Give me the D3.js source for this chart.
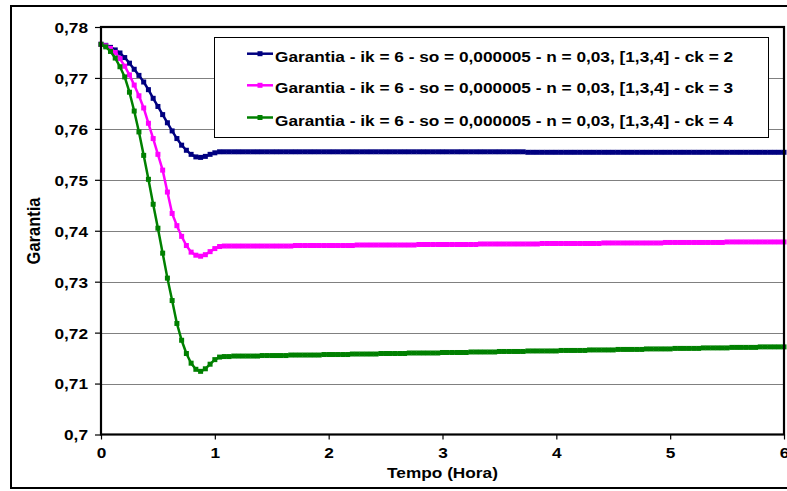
<!DOCTYPE html>
<html><head><meta charset="utf-8">
<script src="https://cdn.jsdelivr.net/npm/d3@7"></script>
<style>
body{margin:0;background:#fff;}
text{font-family:"Liberation Sans",Arial,sans-serif;font-weight:bold;fill:#000;}
</style>
</head><body>
<svg id="chart" width="787" height="491"></svg>
<script>
// ---------- data ----------
const yTickValues = [0.70,0.71,0.72,0.73,0.74,0.75,0.76,0.77,0.78];
const yTickLabels = ["0,7","0,71","0,72","0,73","0,74","0,75","0,76","0,77","0,78"];
const xTickValues = [0,1,2,3,4,5,6];
const xTickLabels = ["0","1","2","3","4","5","6"];
const xTitle = "Tempo (Hora)";
const yTitle = "Garantia";
const seriesNames = [
  "Garantia - ik = 6 - so = 0,000005 - n = 0,03, [1,3,4] - ck = 2",
  "Garantia - ik = 6 - so = 0,000005 - n = 0,03, [1,3,4] - ck = 3",
  "Garantia - ik = 6 - so = 0,000005 - n = 0,03, [1,3,4] - ck = 4"
];
const seriesColors = ["#000080","#FF00FF","#008000"];
const timeStepHours = 1/24; // one sample every 2.5 minutes

const garantiaCk2 = [
0.7766,0.7764,0.7760,0.7755,0.7749,0.7740,0.7729,0.7717,0.7705,0.7692,
0.7677,0.7660,0.7644,0.7628,0.7612,0.7596,0.7581,0.7568,0.7558,0.7550,
0.7545,0.7544,0.7546,0.7550,0.7553,0.7555,0.7555,0.7555,0.7555,0.7555,
0.7555,0.7555,0.7555,0.7555,0.7555,0.7555,0.7555,0.7555,0.7555,0.7555,
0.7555,0.7555,0.7555,0.7555,0.7555,0.7555,0.7555,0.7555,0.7555,0.7555,
0.7555,0.7555,0.7555,0.7555,0.7555,0.7555,0.7555,0.7555,0.7555,0.7555,
0.7555,0.7555,0.7555,0.7555,0.7555,0.7555,0.7555,0.7555,0.7555,0.7555,
0.7555,0.7555,0.7555,0.7555,0.7555,0.7555,0.7555,0.7555,0.7555,0.7555,
0.7555,0.7555,0.7555,0.7555,0.7555,0.7555,0.7555,0.7555,0.7555,0.7555,
0.7554,0.7554,0.7554,0.7554,0.7554,0.7554,0.7554,0.7554,0.7554,0.7554,
0.7554,0.7554,0.7554,0.7554,0.7554,0.7554,0.7554,0.7554,0.7554,0.7554,
0.7554,0.7554,0.7554,0.7554,0.7554,0.7554,0.7554,0.7554,0.7554,0.7554,
0.7554,0.7554,0.7554,0.7554,0.7554,0.7554,0.7554,0.7554,0.7554,0.7554,
0.7554,0.7554,0.7554,0.7554,0.7554,0.7554,0.7554,0.7554,0.7554,0.7554,
0.7554,0.7554,0.7554,0.7554,0.7554
];
const garantiaCk3 = [
0.7766,0.7763,0.7758,0.7750,0.7738,0.7723,0.7706,0.7686,0.7665,0.7641,
0.7611,0.7581,0.7550,0.7519,0.7476,0.7434,0.7410,0.7389,0.7371,0.7358,
0.7352,0.7350,0.7353,0.7359,0.7365,0.7369,0.7370,0.7370,0.7370,0.7370,
0.7370,0.7370,0.7370,0.7370,0.7370,0.7370,0.7370,0.7370,0.7370,0.7370,
0.7370,0.7371,0.7371,0.7371,0.7371,0.7371,0.7371,0.7371,0.7371,0.7371,
0.7371,0.7371,0.7371,0.7371,0.7372,0.7372,0.7372,0.7372,0.7372,0.7372,
0.7372,0.7372,0.7372,0.7372,0.7372,0.7372,0.7372,0.7373,0.7373,0.7373,
0.7373,0.7373,0.7373,0.7373,0.7373,0.7373,0.7373,0.7373,0.7373,0.7373,
0.7374,0.7374,0.7374,0.7374,0.7374,0.7374,0.7374,0.7374,0.7374,0.7374,
0.7374,0.7374,0.7374,0.7375,0.7375,0.7375,0.7375,0.7375,0.7375,0.7375,
0.7375,0.7375,0.7375,0.7375,0.7375,0.7375,0.7376,0.7376,0.7376,0.7376,
0.7376,0.7376,0.7376,0.7376,0.7376,0.7376,0.7376,0.7376,0.7376,0.7377,
0.7377,0.7377,0.7377,0.7377,0.7377,0.7377,0.7377,0.7377,0.7377,0.7377,
0.7377,0.7377,0.7378,0.7378,0.7378,0.7378,0.7378,0.7378,0.7378,0.7378,
0.7378,0.7378,0.7378,0.7378,0.7378
];
const garantiaCk4 = [
0.7766,0.7761,0.7752,0.7739,0.7722,0.7702,0.7672,0.7635,0.7594,0.7548,
0.7501,0.7452,0.7405,0.7356,0.7307,0.7263,0.7218,0.7185,0.7159,0.7140,
0.7128,0.7124,0.7129,0.7138,0.7147,0.7152,0.7153,0.7153,0.7154,0.7154,
0.7154,0.7154,0.7154,0.7154,0.7155,0.7155,0.7155,0.7155,0.7155,0.7155,
0.7156,0.7156,0.7156,0.7156,0.7156,0.7156,0.7156,0.7157,0.7157,0.7157,
0.7157,0.7157,0.7157,0.7158,0.7158,0.7158,0.7158,0.7158,0.7158,0.7159,
0.7159,0.7159,0.7159,0.7159,0.7159,0.7160,0.7160,0.7160,0.7160,0.7160,
0.7160,0.7160,0.7161,0.7161,0.7161,0.7161,0.7161,0.7161,0.7162,0.7162,
0.7162,0.7162,0.7162,0.7162,0.7163,0.7163,0.7163,0.7163,0.7163,0.7163,
0.7164,0.7164,0.7164,0.7164,0.7164,0.7164,0.7164,0.7165,0.7165,0.7165,
0.7165,0.7165,0.7165,0.7166,0.7166,0.7166,0.7166,0.7166,0.7166,0.7167,
0.7167,0.7167,0.7167,0.7167,0.7167,0.7168,0.7168,0.7168,0.7168,0.7168,
0.7168,0.7169,0.7169,0.7169,0.7169,0.7169,0.7169,0.7170,0.7170,0.7170,
0.7170,0.7170,0.7170,0.7171,0.7171,0.7171,0.7171,0.7171,0.7171,0.7172,
0.7172,0.7172,0.7172,0.7172,0.7172
];
const seriesValues = [garantiaCk2, garantiaCk3, garantiaCk4];

// ---------- drawing ----------
const sx = 1.15;          // horizontal stretch of the original bitmap text
const fontSize = 15;
const svg = d3.select("#chart");
svg.append("rect").attr("width",787).attr("height",491).attr("fill","#fff");

const plot = {left:101, right:784, top:27, bottom:434.5};
const x = d3.scaleLinear().domain([0,6]).range([plot.left, plot.right]);
const y = d3.scaleLinear().domain([0.70,0.78]).range([plot.bottom, plot.top]);

// outer chart frame
svg.append("rect").attr("x",11).attr("y",6).attr("width",800).attr("height",482)
  .attr("fill","none").attr("stroke","#000").attr("stroke-width",2);

// gridlines
svg.append("g").selectAll("line").data(yTickValues.slice(1,-1)).join("line")
  .attr("x1",plot.left).attr("x2",plot.right)
  .attr("y1",d=>Math.round(y(d))+0.5).attr("y2",d=>Math.round(y(d))+0.5)
  .attr("stroke","#808080").attr("stroke-width",1);

// axes
const yAxis = svg.append("g").attr("transform",`translate(${plot.left},0)`)
  .call(d3.axisLeft(y).tickValues(yTickValues).tickFormat((d,i)=>yTickLabels[i]).tickSize(6));
yAxis.select(".domain").remove();
yAxis.selectAll(".tick line").attr("stroke","#000").attr("stroke-width",1.2);
yAxis.selectAll(".tick text")
  .attr("x",-13/sx).attr("dy","0.36em")
  .attr("transform",`scale(${sx},1)`)
  .style("font-size",fontSize+"px").style("font-family","'Liberation Sans',Arial,sans-serif")
  .style("font-weight","bold").attr("fill","#000");

const xAxis = svg.append("g").attr("transform",`translate(0,${plot.bottom})`)
  .call(d3.axisBottom(x).tickValues(xTickValues).tickFormat((d,i)=>xTickLabels[i]).tickSize(5));
xAxis.select(".domain").remove();
xAxis.selectAll(".tick line").attr("stroke","#000").attr("stroke-width",1.2);
xAxis.selectAll(".tick text")
  .attr("y",23.5).attr("dy",null)
  .attr("transform",`scale(${sx},1)`)
  .style("font-size",fontSize+"px").style("font-family","'Liberation Sans',Arial,sans-serif")
  .style("font-weight","bold").attr("fill","#000");

// series
const line = d3.line().x((d,i)=>x(i*timeStepHours)).y(d=>y(d));
const ms = 5;
seriesValues.forEach((vals,si)=>{
  const g = svg.append("g");
  g.append("path").datum(vals).attr("d",line)
    .attr("fill","none").attr("stroke",seriesColors[si]).attr("stroke-width",2.5)
    .attr("stroke-linejoin","round");
  g.selectAll("rect").data(vals).join("rect")
    .attr("x",(d,i)=>x(i*timeStepHours)-ms/2).attr("y",d=>y(d)-ms/2)
    .attr("width",ms).attr("height",ms).attr("fill",seriesColors[si]);
});

// plot border (drawn on top of series ends)
svg.append("rect").attr("x",plot.left).attr("y",plot.top)
  .attr("width",plot.right-plot.left).attr("height",plot.bottom-plot.top)
  .attr("fill","none").attr("stroke","#000").attr("stroke-width",2.2);

// axis titles
svg.append("text").attr("text-anchor","middle")
  .attr("transform",`translate(442.5,477.5) scale(${sx},1)`)
  .style("font-size",fontSize+"px").text(xTitle);
svg.append("text").attr("text-anchor","middle")
  .attr("transform",`translate(40,231) rotate(-90) scale(1,${sx})`)
  .style("font-size","16.5px").text(yTitle);

// legend
const lg = svg.append("g");
lg.append("rect").attr("x",214.5).attr("y",37.5).attr("width",554).attr("height",100)
  .attr("fill","#fff").attr("stroke","#000").attr("stroke-width",1);
const rowBase = [61.7, 93.3, 125.5];
seriesNames.forEach((name,i)=>{
  const cy = rowBase[i]-8;
  lg.append("line").attr("x1",247).attr("x2",273).attr("y1",cy).attr("y2",cy)
    .attr("stroke",seriesColors[i]).attr("stroke-width",2.5);
  lg.append("rect").attr("x",260-ms/2).attr("y",cy-ms/2).attr("width",ms).attr("height",ms)
    .attr("fill",seriesColors[i]);
  lg.append("text").attr("transform",`translate(275,${rowBase[i]}) scale(${sx},1)`)
    .style("font-size",fontSize+"px").text(name);
});
</script>
</body></html>
